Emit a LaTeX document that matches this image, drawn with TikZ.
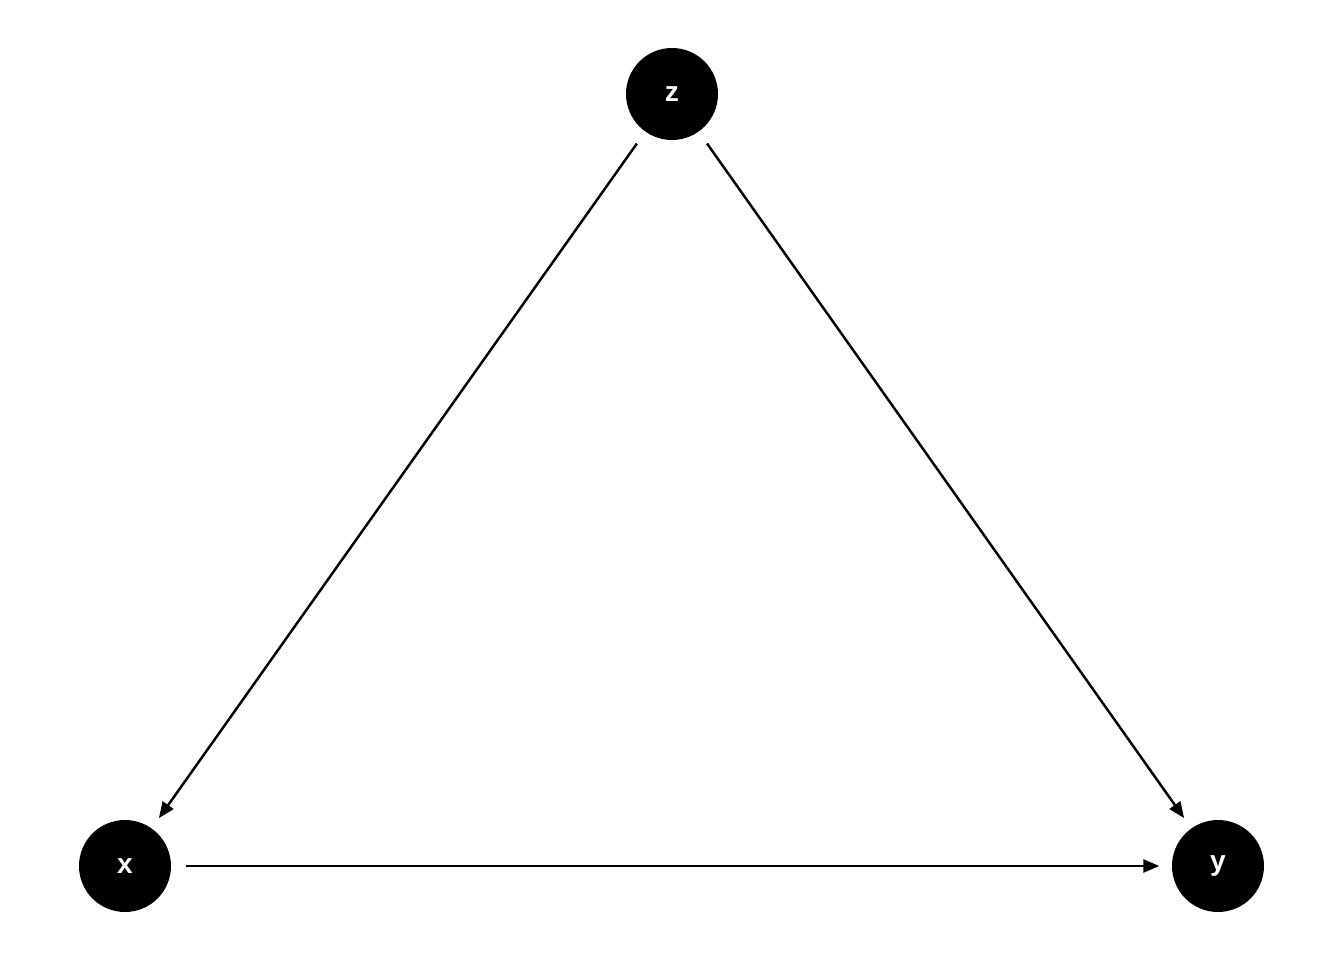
\documentclass[tikz,border=0pt]{standalone}
\usepackage{fontspec}
\setsansfont{Liberation Sans}
\usetikzlibrary{arrows.meta,positioning}

\begin{document}
\begin{tikzpicture}
  \useasboundingbox[fill=white] (0,0) rectangle (13.44,9.6);
  \coordinate (px) at (1.25,0.94);
  \coordinate (py) at (12.18,0.94);
  \coordinate (pz) at (6.72,8.66);
  \tikzset{var/.style={circle, fill=black, minimum size=0.92cm, inner sep=0pt,
      text=white, font=\fontsize{8}{9}\selectfont\sffamily\bfseries},
    edge/.style={line width=0.7pt, -{Triangle[length=1.6mm,width=1.3mm]},
      shorten <=0.14cm, shorten >=0.12cm}}
  \foreach \n in {x,y,z}{
    \node[var] (\n) at (p\n) {\n};
  }
  \foreach \a/\b in {z/x,z/y,x/y}{
    \draw[edge] (\a) -- (\b);
  }
\end{tikzpicture}
\end{document}
